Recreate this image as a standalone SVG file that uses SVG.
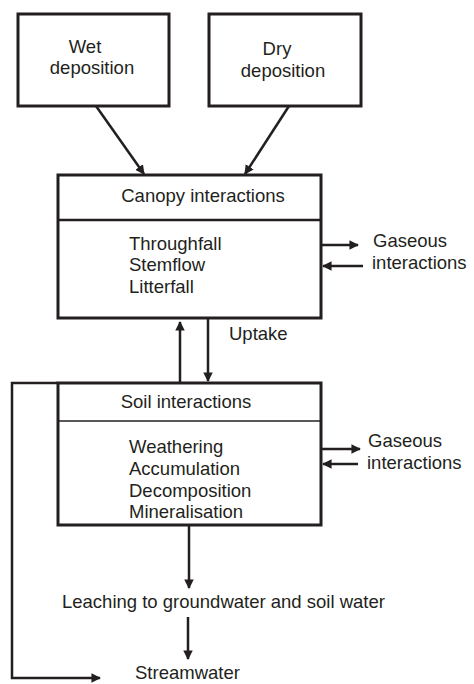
<svg xmlns="http://www.w3.org/2000/svg" width="474" height="684" viewBox="0 0 474 684">
<defs>
<marker id="ah" viewBox="0 0 10 10" refX="9" refY="5" markerWidth="3.8" markerHeight="3.8" orient="auto" markerUnits="strokeWidth">
<path d="M0,0 L10,5 L0,10 Z" fill="#231f20"/>
</marker>
<style>
.box{fill:#fff;stroke:#231f20;stroke-width:3}
.div{stroke:#231f20;stroke-width:2.5}
.thin{stroke:#231f20;stroke-width:1.5}
.ar{fill:none;stroke:#231f20;stroke-width:2.5;marker-end:url(#ah)}
text{font-family:"Liberation Sans",Arial,sans-serif;font-size:18.5px;fill:#231f20}
.c{text-anchor:middle}
</style>
</defs>
<rect width="474" height="684" fill="#fff"/>
<g id="wet">
<rect class="box" x="18" y="14" width="151" height="92"/>
<text class="c" x="85" y="53">Wet</text>
<text class="c" x="92" y="74">deposition</text>
</g>
<g id="dry">
<rect class="box" x="209" y="14" width="152" height="92"/>
<text class="c" x="277" y="55">Dry</text>
<text class="c" x="283" y="77">deposition</text>
</g>
<g id="canopy">
<rect class="box" x="58" y="175" width="263" height="143"/>
<line class="div" x1="58" y1="220" x2="321" y2="220"/>
<text class="c" x="203" y="202">Canopy interactions</text>
<text x="129" y="250">Throughfall</text>
<text x="129" y="271">Stemflow</text>
<text x="129" y="293">Litterfall</text>
</g>
<g id="gas1">
<text x="373" y="247">Gaseous</text>
<text x="372" y="269">interactions</text>
</g>
<g id="soil">
<rect class="box" x="58" y="383" width="263" height="142"/>
<line class="thin" x1="58" y1="421" x2="321" y2="421"/>
<text class="c" x="186" y="408">Soil interactions</text>
<text x="129" y="453">Weathering</text>
<text x="129" y="475">Accumulation</text>
<text x="129" y="497">Decomposition</text>
<text x="129" y="518">Mineralisation</text>
</g>
<g id="gas2">
<text x="368" y="447">Gaseous</text>
<text x="367" y="469">interactions</text>
</g>
<g id="leaching">
<text x="62" y="608">Leaching to groundwater and soil water</text>
</g>
<g id="stream">
<text x="135" y="679">Streamwater</text>
</g>
<g id="connectors">
<line class="ar" x1="96" y1="106" x2="144" y2="174"/>
<line class="ar" x1="289" y1="106" x2="245" y2="174"/>
<line class="ar" x1="321" y1="245" x2="358" y2="245"/>
<line class="ar" x1="363" y1="266" x2="323" y2="266"/>
<line class="ar" x1="180" y1="382" x2="180" y2="322"/>
<line class="ar" x1="208" y1="319" x2="208" y2="381"/>
<text x="229" y="340">Uptake</text>
<line class="ar" x1="321" y1="449" x2="360" y2="449"/>
<line class="ar" x1="358" y1="464" x2="323" y2="464"/>
<line class="ar" x1="189" y1="526" x2="189" y2="588"/>
<line class="ar" x1="188" y1="617" x2="188" y2="659"/>
<polyline class="ar" points="58,383 12,383 12,678 100,678"/>
</g>
</svg>
